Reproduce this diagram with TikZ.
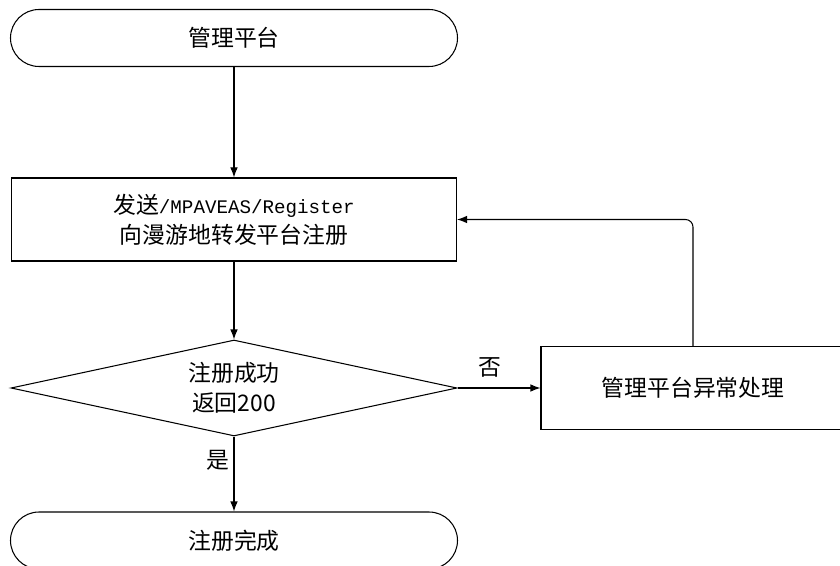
\documentclass[tikz,border=0pt]{standalone}
\usepackage{fontspec}
\setmainfont{Noto Sans CJK SC}
\newfontfamily\regmono{Liberation Mono}[Scale=0.84]
\usetikzlibrary{shapes,arrows.meta}
\tikzstyle{term} = [rectangle, rounded corners=0.57cm, draw, minimum width=8.94cm, minimum height=1.14cm, inner sep=0pt]
\tikzstyle{proc} = [rectangle, draw, minimum height=1.66cm, inner sep=0pt, align=center]
\tikzstyle{dec} = [diamond, aspect=4.6, draw, minimum width=8.92cm, minimum height=1.92cm, inner sep=0pt, align=center]
\tikzstyle{arr} = [draw, -{Latex[length=2mm, width=1.5mm]}]

\begin{document}
\begin{tikzpicture}[font=\fontsize{13}{17}\selectfont, line width=0.6pt]

	\useasboundingbox (0,0) rectangle (16.8,-11.32);

	\node[term] (st) at (4.68,-0.76) {管理平台};
	\node[proc, minimum width=8.9cm] (snd) at (4.68,-4.39) {发送{\regmono /MPAVEAS/Register}\\向漫游地转发平台注册};
	\node[dec] (chk) at (4.68,-7.76) {注册成功\\返回200};
	\node[proc, minimum width=6.08cm] (err) at (13.86,-7.76) {管理平台异常处理};
	\node[term] (fin) at (4.68,-10.81) {注册完成};

	\node (no) at (9.8,-7.34) {否};
	\node (yes) at (4.36,-9.2) {是};

	\draw[arr] (st) -- (snd);
	\draw[arr] (snd) -- (chk);
	\draw[arr] (chk) -- (err);
	\draw[arr] (chk) -- (fin);
	\draw[arr, rounded corners=0.15cm] (err.north) |- (snd.east);

\end{tikzpicture}
\end{document}
